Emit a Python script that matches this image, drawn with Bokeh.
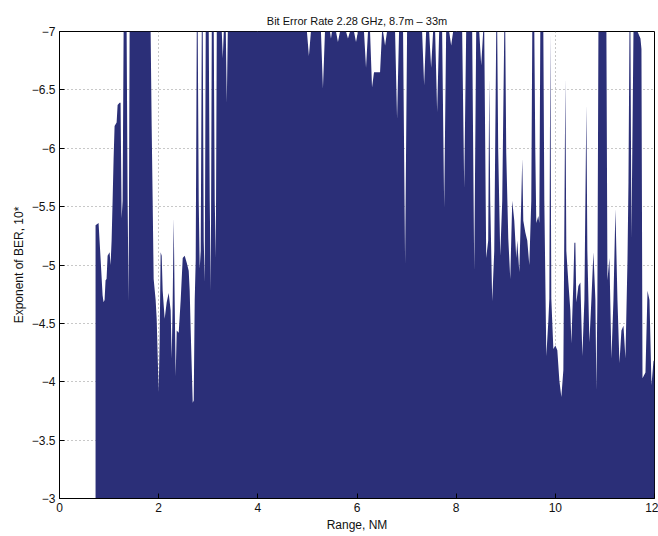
from bokeh.plotting import figure
from bokeh.models import Range1d, FixedTicker
from bokeh.embed import file_html
from bokeh.resources import INLINE

# Range (NM) and BER exponent
range_nm = [
    0.727, 0.788, 0.808, 0.828, 0.869, 0.889, 0.909, 0.929, 0.949, 0.970,
    1.010, 1.030, 1.051, 1.071, 1.091, 1.111, 1.152, 1.172, 1.212, 1.232,
    1.253, 1.273, 1.293, 1.354, 1.374, 1.394, 1.414, 1.838, 1.859, 1.879,
    1.899, 1.939, 1.960, 2.000, 2.020, 2.040, 2.061, 2.081, 2.121, 2.162,
    2.202, 2.242, 2.263, 2.283, 2.303, 2.323, 2.343, 2.364, 2.404, 2.444,
    2.485, 2.525, 2.566, 2.606, 2.626, 2.646, 2.687, 2.707, 2.727, 2.747,
    2.768, 2.788, 2.808, 2.828, 2.848, 2.869, 2.889, 2.909, 2.929, 2.949,
    3.010, 3.030, 3.051, 3.071, 3.111, 3.131, 3.152, 3.172, 3.273, 3.293,
    3.313, 3.354, 3.374, 3.394,
    4.990, 5.030, 5.071, 5.273, 5.313, 5.354, 5.455, 5.475, 5.495, 5.576,
    5.616, 5.657, 5.778, 5.818, 5.859, 5.939, 5.980, 6.020, 6.141, 6.182,
    6.222, 6.263, 6.303, 6.343, 6.465, 6.505, 6.525, 6.566, 6.606, 6.768,
    6.808, 6.848,
    6.929, 6.970, 7.010, 7.313, 7.354, 7.394, 7.455, 7.495, 7.535, 7.576,
    7.616, 7.657, 7.717, 7.758, 7.798, 7.859, 7.899, 7.939, 8.121, 8.162,
    8.202, 8.323, 8.364, 8.404, 8.465, 8.505, 8.545, 8.566,
    8.606, 8.646, 8.667, 8.687, 8.727, 8.768, 8.808, 8.828, 8.848, 8.889,
    8.929, 8.970, 8.990, 9.010, 9.051, 9.091, 9.131, 9.172, 9.212, 9.232,
    9.273, 9.313, 9.333, 9.354, 9.394, 9.434, 9.475, 9.515, 9.535, 9.576,
    9.596, 9.616, 9.657, 9.677, 9.697, 9.758, 9.778, 9.818, 9.859, 9.879,
    9.899, 9.919, 9.960, 10.000, 10.040, 10.081, 10.121, 10.162, 10.202, 10.222,
    10.263, 10.303, 10.323, 10.364, 10.384,
    10.404, 10.424, 10.465, 10.505, 10.545, 10.586, 10.626, 10.646, 10.687, 10.727,
    10.768, 10.808, 10.828, 10.848, 10.869, 11.030, 11.051, 11.091, 11.131, 11.172,
    11.212, 11.253, 11.293, 11.333, 11.374, 11.414, 11.455, 11.475, 11.495, 11.515,
    11.535, 11.576, 11.657, 11.717, 11.737, 11.758, 11.818, 11.859, 11.899, 11.939,
    11.980, 12.000,
]

ber_exp = [
    -5.34, -5.36, -5.21, -5.06, -4.74, -4.68, -4.70, -4.87, -4.88, -5.08,
    -5.11, -5.00, -5.21, -5.55, -5.91, -6.19, -6.22, -6.37, -6.39, -6.39,
    -5.40, -5.55, -7.00, -7.00, -5.55, -4.68, -7.00, -7.00, -6.19, -5.55,
    -4.88, -4.70, -4.54, -3.91, -4.35, -5.11, -5.08, -4.78, -4.54, -4.68,
    -4.76, -4.61, -4.20, -4.70, -5.40, -4.70, -4.05, -4.44, -4.42, -4.70,
    -5.06, -5.08, -5.02, -4.95, -4.78, -4.44, -3.82, -3.84, -4.70, -5.04,
    -7.00, -7.00, -5.55, -4.97, -5.12, -7.00, -7.00, -5.21, -4.85, -7.00,
    -7.00, -5.55, -4.78, -7.00, -7.00, -5.55, -5.06, -7.00, -7.00, -6.77,
    -7.00, -7.00, -6.39, -7.00,
    -7.00, -6.79, -7.00, -7.00, -6.51, -7.00, -7.00, -6.94, -7.00, -7.00,
    -6.91, -7.00, -7.00, -6.94, -7.00, -7.00, -6.91, -7.00, -7.00, -6.69,
    -7.00, -7.00, -6.52, -6.65, -6.65, -7.00, -7.00, -6.88, -7.00, -7.00,
    -6.25, -7.00,
    -7.00, -5.01, -7.00, -7.00, -6.54, -7.00, -7.00, -6.69, -7.00, -7.00,
    -6.31, -7.00, -7.00, -5.49, -7.00, -7.00, -6.88, -7.00, -7.00, -5.66,
    -7.00, -7.00, -4.95, -7.00, -7.00, -6.71, -7.00, -7.00,
    -5.06, -5.21, -6.60, -5.55, -4.69, -5.12, -7.00, -7.00, -5.98, -5.08,
    -5.55, -7.00, -7.00, -5.96, -5.23, -4.88, -5.55, -5.38, -5.06, -5.21,
    -4.94, -5.55, -5.91, -5.38, -5.28, -5.21, -5.00, -5.55, -7.00, -7.00,
    -5.98, -5.36, -5.42, -5.36, -7.00, -7.00, -5.55, -4.22, -4.52, -4.71,
    -7.00, -4.71, -4.28, -4.31, -4.27, -4.01, -3.87, -4.10, -6.60, -5.12,
    -4.85, -4.61, -4.33, -4.85, -5.19,
    -5.19, -4.68, -4.82, -4.85, -4.22, -4.70, -6.37, -5.12, -4.34, -4.70,
    -5.11, -4.70, -3.93, -4.70, -7.00, -7.00, -4.87, -5.06, -4.20, -4.70,
    -5.48, -4.70, -4.16, -4.44, -4.48, -4.20, -5.04, -5.71, -7.00, -7.00,
    -5.23, -7.00, -7.00, -6.94, -6.85, -4.03, -4.08, -4.78, -4.70, -3.97,
    -4.18, -4.18,
]

baseline = -3.0
x_ticks = [0, 2, 4, 6, 8, 10, 12]
y_ticks = [-7, -6.5, -6, -5.5, -5, -4.5, -4, -3.5, -3]
y_tick_labels = ["\u22127", "\u22126.5", "\u22126", "\u22125.5", "\u22125",
                 "\u22124.5", "\u22124", "\u22123.5", "\u22123"]

FONT = "Liberation Sans"

p = figure(width=658, height=536, output_backend="svg", toolbar_location=None,
           x_range=Range1d(0, 12), y_range=Range1d(-3, -7),
           min_border_left=59, min_border_right=4,
           min_border_top=31, min_border_bottom=38,
           title="Bit Error Rate 2.28 GHz, 8.7m \u2013 33m")

p.varea(x=range_nm, y1=baseline, y2=ber_exp, fill_color="#2b2f78")

p.title.align = "center"
p.title.text_font = FONT
p.title.text_font_style = "normal"
p.title.text_font_size = "11px"
p.title.text_color = "#111111"

p.xaxis.ticker = FixedTicker(ticks=x_ticks)
p.yaxis.ticker = FixedTicker(ticks=y_ticks)
p.yaxis.major_label_overrides = {t: l for t, l in zip(y_ticks, y_tick_labels)}
p.xaxis.axis_label = "Range, NM"
p.yaxis.axis_label = "Exponent of BER, 10*"

for ax in (p.xaxis, p.yaxis):
    ax.minor_tick_line_color = None
    ax.major_tick_in = 5
    ax.major_tick_out = 0
    ax.axis_line_color = "black"
    ax.major_tick_line_color = "black"
    ax.major_label_text_font = FONT
    ax.major_label_text_font_size = "12px"
    ax.major_label_text_color = "#111111"
    ax.axis_label_text_font = FONT
    ax.axis_label_text_font_size = "12px"
    ax.axis_label_text_font_style = "normal"
    ax.axis_label_text_color = "#111111"
    ax.axis_label_standoff = 3
    ax.major_label_standoff = 4

p.grid.grid_line_color = "#777777"
p.grid.grid_line_dash = "1 3"
p.grid.grid_line_alpha = 0.8
p.outline_line_color = "black"
p.outline_line_alpha = 1.0
p.background_fill_color = "white"
p.border_fill_color = "white"

open("out.html", "w").write(file_html(p, INLINE))
